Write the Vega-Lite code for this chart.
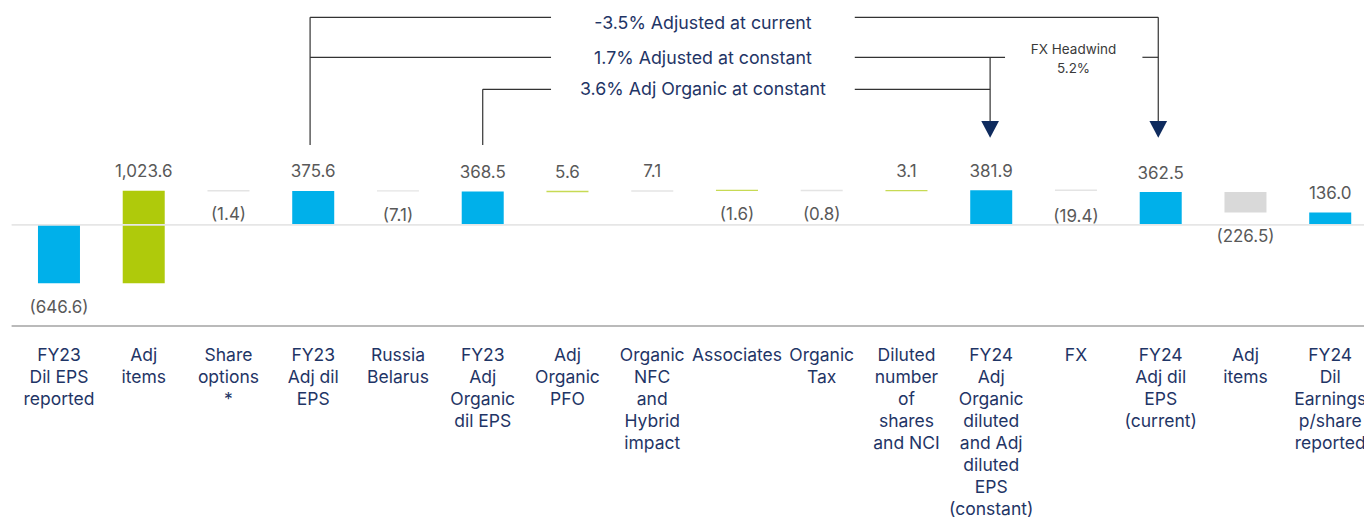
{
  "$schema": "https://vega.github.io/schema/vega-lite/v6.json",
  "autosize": {"type": "none"},
  "padding": {"left": 11.6, "top": 0, "right": 0, "bottom": 0},
  "width": 1366,
  "height": 519,
  "background": "white",
  "config": {"view": {"stroke": null}},
  "datasets": {
    "steps": [
      {"idx": 0, "cat": "FY23\nDil EPS\nreported", "value": -646.6, "start": 0, "end": -646.6, "kind": "total", "label": "(646.6)"},
      {"idx": 1, "cat": "Adj\nitems", "value": 1023.6, "start": -646.6, "end": 377.0, "kind": "uplift", "label": "1,023.6"},
      {"idx": 2, "cat": "Share\noptions\n*", "value": -1.4, "start": 377.0, "end": 375.6, "kind": "neutral", "label": "(1.4)"},
      {"idx": 3, "cat": "FY23\nAdj dil\nEPS", "value": 375.6, "start": 0, "end": 375.6, "kind": "total", "label": "375.6"},
      {"idx": 4, "cat": "Russia\nBelarus", "value": -7.1, "start": 375.6, "end": 368.5, "kind": "neutral", "label": "(7.1)"},
      {"idx": 5, "cat": "FY23\nAdj\nOrganic\ndil EPS", "value": 368.5, "start": 0, "end": 368.5, "kind": "total", "label": "368.5"},
      {"idx": 6, "cat": "Adj\nOrganic\nPFO", "value": 5.6, "start": 368.5, "end": 374.1, "kind": "uplift", "label": "5.6"},
      {"idx": 7, "cat": "Organic\nNFC\nand\nHybrid\nimpact", "value": 7.1, "start": 374.1, "end": 381.2, "kind": "neutral", "label": "7.1"},
      {"idx": 8, "cat": "Associates", "value": -1.6, "start": 381.2, "end": 379.6, "kind": "uplift", "label": "(1.6)"},
      {"idx": 9, "cat": "Organic\nTax", "value": -0.8, "start": 379.6, "end": 378.8, "kind": "neutral", "label": "(0.8)"},
      {"idx": 10, "cat": "Diluted\nnumber\nof\nshares\nand NCI", "value": 3.1, "start": 378.8, "end": 381.9, "kind": "uplift", "label": "3.1"},
      {"idx": 11, "cat": "FY24\nAdj\nOrganic\ndiluted\nand Adj\ndiluted\nEPS\n(constant)", "value": 381.9, "start": 0, "end": 381.9, "kind": "total", "label": "381.9"},
      {"idx": 12, "cat": "FX", "value": -19.4, "start": 381.9, "end": 362.5, "kind": "neutral", "label": "(19.4)"},
      {"idx": 13, "cat": "FY24\nAdj dil\nEPS\n(current)", "value": 362.5, "start": 0, "end": 362.5, "kind": "total", "label": "362.5"},
      {"idx": 14, "cat": "Adj\nitems", "value": -226.5, "start": 362.5, "end": 136.0, "kind": "neutral", "label": "(226.5)"},
      {"idx": 15, "cat": "FY24\nDil\nEarnings\np/share\nreported", "value": 136.0, "start": 0, "end": 136.0, "kind": "total", "label": "136.0"}
    ],
    "guides": [
      {"level": 0, "role": "baseline"},
      {"level": -1120.7, "role": "axis"}
    ],
    "brackets": [
      {"xa": 2.963, "xb": 5.806, "ya": 2297.9, "yb": 2297.9},
      {"xa": 9.39, "xb": 12.971, "ya": 2297.9, "yb": 2297.9},
      {"xa": 2.963, "xb": 5.806, "ya": 1854.9, "yb": 1854.9},
      {"xa": 9.39, "xb": 11.163, "ya": 1854.9, "yb": 1854.9},
      {"xa": 12.784, "xb": 12.971, "ya": 1854.9, "yb": 1854.9},
      {"xa": 5.0, "xb": 5.806, "ya": 1500.6, "yb": 1500.6},
      {"xa": 9.39, "xb": 10.987, "ya": 1500.6, "yb": 1500.6},
      {"xa": 2.963, "xb": 2.963, "ya": 2297.9, "yb": 883.7},
      {"xa": 5.0, "xb": 5.0, "ya": 1500.6, "yb": 883.7},
      {"xa": 10.987, "xb": 10.987, "ya": 1854.9, "yb": 1149.5},
      {"xa": 12.971, "xb": 12.971, "ya": 2297.9, "yb": 1149.5}
    ],
    "arrows": [
      {"xa": 10.987, "ya": 1056.5},
      {"xa": 12.971, "ya": 1056.5}
    ],
    "notes": [
      {"xa": 7.598, "ya": 2165, "text": "-3.5% Adjusted at current"},
      {"xa": 7.598, "ya": 1780.7, "text": "1.7% Adjusted at constant"},
      {"xa": 7.598, "ya": 1438.3, "text": "3.6% Adj Organic at constant"}
    ],
    "fxnote": [
      {"xa": 11.971, "ya": 1888.2, "text": "FX Headwind\n5.2%"}
    ]
  },
  "layer": [
    {
      "data": {"name": "steps"},
      "transform": [{"filter": "abs(datum.value) >= 30"}],
      "mark": {"type": "bar", "size": 42},
      "encoding": {
        "x": {"field": "idx", "type": "quantitative", "scale": {"domain": [-0.5, 15.5], "nice": false, "zero": false}, "axis": null},
        "y": {"field": "start", "type": "quantitative", "scale": {"domain": [-3258, 2489.5], "nice": false, "zero": false}, "axis": null},
        "y2": {"field": "end"},
        "color": {"field": "kind", "type": "nominal", "scale": {"domain": ["total", "uplift", "neutral"], "range": ["#00b0ea", "#afca0b", "#d9d9d9"]}, "legend": null}
      }
    },
    {
      "data": {"name": "guides"},
      "transform": [{"filter": "datum.role == 'baseline'"}],
      "mark": {"type": "rule", "color": "#e6e6e6", "strokeWidth": 1.7},
      "encoding": {"y": {"field": "level", "type": "quantitative"}}
    },
    {
      "data": {"name": "guides"},
      "transform": [{"filter": "datum.role == 'axis'"}],
      "mark": {"type": "rule", "color": "#a3a3a3", "strokeWidth": 1.4},
      "encoding": {"y": {"field": "level", "type": "quantitative"}}
    },
    {
      "data": {"name": "steps"},
      "transform": [{"filter": "abs(datum.value) < 30"}],
      "mark": {"type": "tick", "orient": "horizontal", "size": 42, "thickness": 1.4},
      "encoding": {
        "x": {"field": "idx", "type": "quantitative"},
        "y": {"field": "start", "type": "quantitative"},
        "color": {"field": "kind", "type": "nominal", "legend": null}
      }
    },
    {
      "data": {"name": "steps"},
      "transform": [{"filter": "datum.value > 0"}],
      "mark": {"type": "text", "font": "Inter", "fontSize": 17, "color": "#595959", "align": "center", "baseline": "alphabetic", "dy": -13.5},
      "encoding": {
        "x": {"field": "idx", "type": "quantitative"},
        "y": {"field": "end", "type": "quantitative"},
        "text": {"field": "label", "type": "nominal"}
      }
    },
    {
      "data": {"name": "steps"},
      "transform": [{"filter": "datum.value < 0"}],
      "mark": {"type": "text", "font": "Inter", "fontSize": 17, "color": "#595959", "align": "center", "baseline": "top", "dy": 16.5},
      "encoding": {
        "x": {"field": "idx", "type": "quantitative"},
        "y": {"field": "end", "type": "quantitative"},
        "text": {"field": "label", "type": "nominal"}
      }
    },
    {
      "data": {"name": "steps"},
      "mark": {"type": "text", "font": "Inter", "fontSize": 17.5, "color": "#1f3566", "align": "center", "baseline": "alphabetic", "lineBreak": "\n", "lineHeight": 22.1},
      "encoding": {
        "x": {"field": "idx", "type": "quantitative"},
        "y": {"datum": -1505, "type": "quantitative"},
        "text": {"field": "cat", "type": "nominal"}
      }
    },
    {
      "data": {"name": "brackets"},
      "mark": {"type": "rule", "color": "#333333", "strokeWidth": 1.2},
      "encoding": {
        "x": {"field": "xa", "type": "quantitative"},
        "x2": {"field": "xb"},
        "y": {"field": "ya", "type": "quantitative"},
        "y2": {"field": "yb"}
      }
    },
    {
      "data": {"name": "arrows"},
      "mark": {"type": "point", "shape": "M-1,-0.94L1,-0.94L0,0.94Z", "size": 313, "filled": true, "color": "#0f2b5e", "opacity": 1},
      "encoding": {
        "x": {"field": "xa", "type": "quantitative"},
        "y": {"field": "ya", "type": "quantitative"}
      }
    },
    {
      "data": {"name": "notes"},
      "mark": {"type": "text", "font": "Inter", "fontSize": 17.8, "color": "#1f3566", "align": "center", "baseline": "alphabetic"},
      "encoding": {
        "x": {"field": "xa", "type": "quantitative"},
        "y": {"field": "ya", "type": "quantitative"},
        "text": {"field": "text", "type": "nominal"}
      }
    },
    {
      "data": {"name": "fxnote"},
      "mark": {"type": "text", "font": "Inter", "fontSize": 13.5, "color": "#3a3a3a", "align": "center", "baseline": "alphabetic", "lineBreak": "\n", "lineHeight": 18.4},
      "encoding": {
        "x": {"field": "xa", "type": "quantitative"},
        "y": {"field": "ya", "type": "quantitative"},
        "text": {"field": "text", "type": "nominal"}
      }
    }
  ]
}
